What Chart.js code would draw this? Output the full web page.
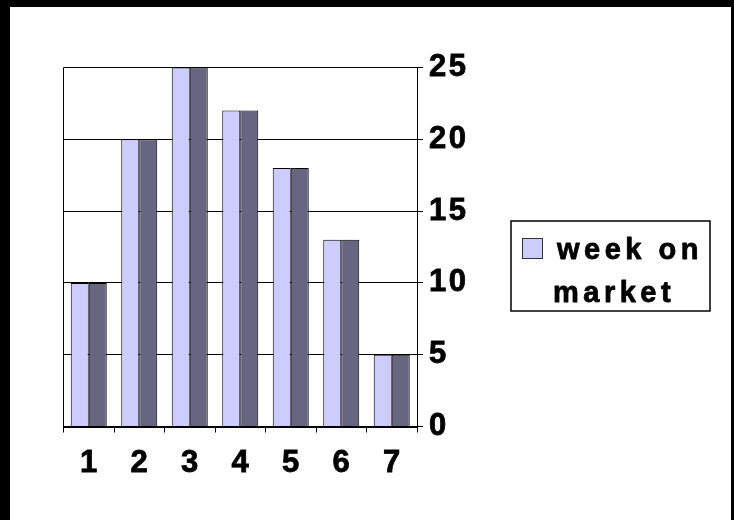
<!DOCTYPE html>
<html>
<head>
<meta charset="utf-8">
<script src="https://cdn.jsdelivr.net/npm/chart.js@4/dist/chart.umd.min.js"></script>
<style>
  html, body { margin: 0; padding: 0; background: #000; width: 734px; height: 520px; overflow: hidden; }
  #frame { position: absolute; left: 10px; top: 7px; width: 721px; height: 513px; background: #fff; }
  canvas { display: block; }
</style>
</head>
<body>
<div id="frame"><canvas id="chart" width="721" height="513"></canvas></div>
<script>
// Weeks on the market, one column per week
const weeks = ['1', '2', '3', '4', '5', '6', '7'];
const weeksOnMarket = [10, 20, 25, 22, 18, 13, 5];
const yTickLabels = ['0', '5', '10', '15', '20', '25'];
const seriesLines = ['week on', 'market'];

const FRONT = '#CCCCFF';
const SIDE = '#666680';
const FONT_FAMILY = '"Liberation Sans", Arial, sans-serif';
const LABEL_FONT = { family: FONT_FAMILY, size: 31, weight: 'bold' };

// Letter spacing for every label drawn on the canvas
const spacingPlugin = {
  id: 'spacing',
  beforeUpdate(chart) { chart.ctx.letterSpacing = '2.5px'; },
  beforeDraw(chart) { chart.ctx.letterSpacing = '2.5px'; }
};

// Boxed legend on the right, text split over two lines
const boxLegend = {
  id: 'boxLegend',
  afterDraw(chart) {
    const ctx = chart.ctx;
    const ds = chart.data.datasets[0];
    ctx.save();
    ctx.lineWidth = 1.5;
    ctx.strokeStyle = '#000';
    ctx.strokeRect(501, 214, 199, 90);
    ctx.fillStyle = ds.backgroundColor;
    ctx.fillRect(512.5, 231.5, 20, 20);
    ctx.lineWidth = 1;
    ctx.strokeStyle = '#333';
    ctx.strokeRect(512.5, 231.5, 20, 20);
    ctx.letterSpacing = '4.5px';
    ctx.font = 'bold 29px ' + FONT_FAMILY;
    ctx.fillStyle = '#000';
    ctx.strokeStyle = '#000';
    ctx.lineWidth = 0.8;
    ctx.lineJoin = 'round';
    ctx.textBaseline = 'alphabetic';
    ctx.textAlign = 'left';
    const lines = [[seriesLines[0], 547, 252], [seriesLines[1], 543, 295]];
    for (const [t, x, y] of lines) {
      ctx.strokeText(t, x, y);
      ctx.fillText(t, x, y);
    }
    ctx.restore();
  }
};

new Chart(document.getElementById('chart'), {
  type: 'bar',
  data: {
    labels: weeks,
    datasets: [
      {
        label: seriesLines.join(' '),
        data: weeksOnMarket,
        backgroundColor: FRONT,
        borderColor: '#000',
        borderWidth: 1,
        categoryPercentage: 0.713,
        barPercentage: 1
      },
      {
        label: seriesLines.join(' ') + ' (side)',
        data: weeksOnMarket,
        backgroundColor: SIDE,
        borderColor: '#000',
        borderWidth: 1,
        categoryPercentage: 0.713,
        barPercentage: 1
      }
    ]
  },
  options: {
    responsive: false,
    animation: false,
    events: [],
    layout: { padding: { left: 53.5, top: 60.5, right: 254, bottom: 33.5 } },
    plugins: {
      legend: { display: false },
      tooltip: { enabled: false }
    },
    scales: {
      x: {
        offset: true,
        grid: {
          offset: true,
          drawOnChartArea: true,
          color: (c) => (c.index === 0 ? '#000' : 'rgba(0,0,0,0)'),
          tickColor: '#000',
          tickLength: 6,
          lineWidth: 1
        },
        border: { display: true, color: '#000', width: 2 },
        ticks: {
          color: '#000',
          padding: 12,
          labelOffset: 1,
          textStrokeColor: '#000',
          textStrokeWidth: 0.8,
          font: LABEL_FONT
        },
        afterFit(s) { s.height = 60; s.paddingLeft = 0; s.paddingRight = 0; }
      },
      y: {
        position: 'right',
        min: 0,
        max: 25,
        grid: { color: '#000', tickColor: '#000', tickLength: 6, lineWidth: 1 },
        border: { display: true, color: '#000', width: 1 },
        ticks: {
          stepSize: 5,
          color: '#000',
          padding: 6,
          textStrokeColor: '#000',
          textStrokeWidth: 0.8,
          font: LABEL_FONT,
          callback: (v, i) => yTickLabels[i]
        },
        afterFit(s) { s.width = 60; s.paddingTop = 0; s.paddingBottom = 0; }
      }
    }
  },
  plugins: [spacingPlugin, boxLegend]
});
</script>
</body>
</html>
